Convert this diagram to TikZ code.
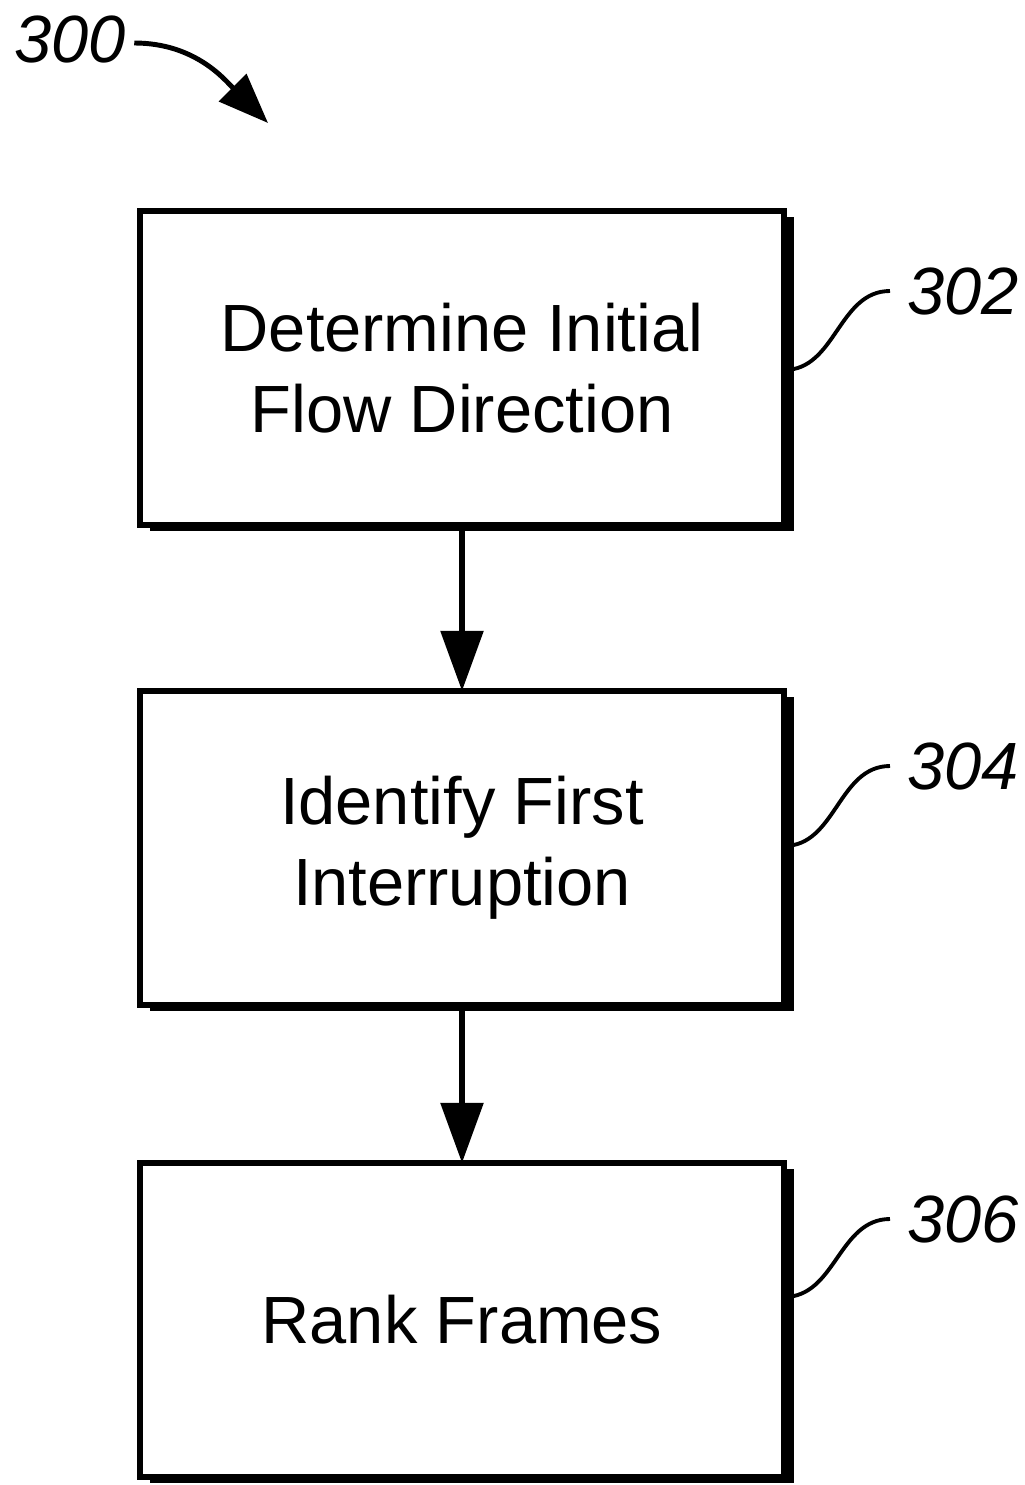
\documentclass[tikz,border=0pt]{standalone}
\usepackage{fontspec}
\setmainfont{Liberation Sans}
\usetikzlibrary{arrows.meta,shadows}

\begin{document}
\begin{tikzpicture}[x=0.01cm,y=-0.01cm,
    every node/.style={outer sep=0pt},
    stepbox/.style={draw,fill=white,line width=1.7pt,minimum width=6.44cm,minimum height=3.14cm,
        align=center,font=\fontsize{19}{23}\selectfont,
        drop shadow={shadow xshift=0.1cm,shadow yshift=-0.06cm,fill=black,opacity=1}},
    reflabel/.style={font=\fontsize{19}{23}\selectfont\itshape,inner sep=1pt},
    flow/.style={line width=1.6pt,-{Triangle[length=0.6cm,width=0.42cm]}},
    lead/.style={line width=1.1pt}]
            \useasboundingbox (0,0) rectangle (1025,1485);
            \node[stepbox] (determine) at (462,368) {Determine Initial\\Flow Direction};
            \node[stepbox] (identify) at (462,848) {Identify First\\Interruption};
            \node[stepbox] (rank) at (462,1320) {Rank Frames};
            \node[reflabel] (fig) at (70,40) {300};
            \node[reflabel,anchor=west] (l302) at (904,291) {302};
            \node[reflabel,anchor=west] (l304) at (904,766) {304};
            \node[reflabel,anchor=west] (l306) at (904,1219) {306};
            \draw[flow] (determine.south) -- (identify.north);
            \draw[flow] (identify.south) -- (rank.north);
            \draw[line width=1.4pt,-{Triangle[length=0.5cm,width=0.38cm]}] (fig.east) ++(5,3) to[out=0,in=135] (268,123);
            \draw[lead] ([yshift=-0.02cm]determine.east) to[out=0,in=180] ([xshift=-0.14cm]l302.west);
            \draw[lead] ([yshift=0.02cm]identify.east) to[out=0,in=180] ([xshift=-0.14cm]l304.west);
            \draw[lead] ([yshift=0.23cm]rank.east) to[out=0,in=180] ([xshift=-0.14cm]l306.west);
        \end{tikzpicture}
\end{document}
